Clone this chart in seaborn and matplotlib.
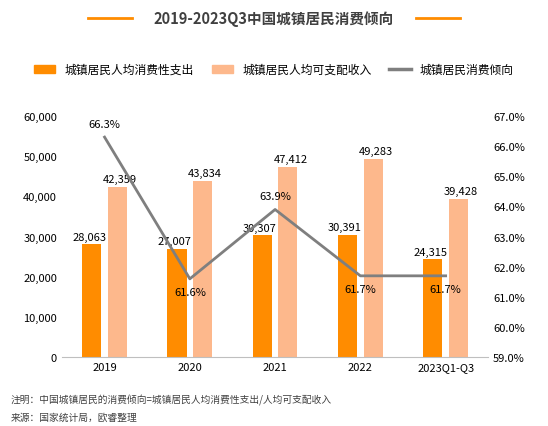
import seaborn as sns
import matplotlib.pyplot as plt
import pandas as pd

years = ["2019", "2020", "2021", "2022", "2023Q1-Q3"]
spend = [28063, 27007, 30307, 30391, 24315]
income = [42359, 43834, 47412, 49283, 39428]
ratio = [66.3, 61.6, 63.9, 61.7, 61.7]

plt.rcParams['font.family'] = ['Noto Sans CJK SC', 'DejaVu Sans']

df = pd.DataFrame({"year": years * 2, "value": spend + income,
                   "series": ["城镇居民人均消费性支出"] * 5 + ["城镇居民人均可支配收入"] * 5})

fig = plt.figure(figsize=(5.48, 4.27), dpi=100)
ax = fig.add_axes([0.113, 0.161, 0.778, 0.565])
c1, c2, cl = "#FF8C00", "#FDB88C", "#7F7F7F"
sns.barplot(data=df, x="year", y="value", hue="series", palette=[c1, c2],
            width=0.6, gap=0.25, saturation=1, ax=ax, legend=False)
ax.set_ylim(0, 60000)
ax.set_yticks(range(0, 60001, 10000))
ax.set_yticklabels([f"{v:,}" for v in range(0, 60001, 10000)])
ax.set_xlabel("")
ax.set_ylabel("")
for s in ["top", "right", "left"]:
    ax.spines[s].set_visible(False)
ax.spines["bottom"].set_color("#BFBFBF")
ax.tick_params(length=0, labelsize=8)
for i, (a, b) in enumerate(zip(spend, income)):
    ax.text(i - 0.18, a + 1200, f"{a:,}", ha="center", fontsize=8)
    ax.text(i + 0.18, b + 1200, f"{b:,}", ha="center", fontsize=8)

ax2 = ax.twinx()
sns.lineplot(x=list(range(5)), y=ratio, color=cl, lw=2, ax=ax2)
ax2.set_ylim(59, 67)
ax2.set_yticks(range(59, 68))
ax2.set_yticklabels([f"{v}.0%" for v in range(59, 68)])
for s in ["top", "right", "left", "bottom"]:
    ax2.spines[s].set_visible(False)
ax2.tick_params(length=0, labelsize=8)
offs = [0.45, -0.45, 0.45, -0.45, -0.45]
for i, r in enumerate(ratio):
    ax2.text(i, r + offs[i], f"{r}%", ha="center", va="center", fontsize=8)
ax.set_xlim(-0.5, 4.5)

fig.text(0.5, 0.955, "2019-2023Q3中国城镇居民消费倾向", ha="center", va="center",
         fontsize=10.5, fontweight="bold", color="#404040")
fig.add_artist(plt.Line2D([0.16, 0.24], [0.955, 0.955], color=c1, lw=2))
fig.add_artist(plt.Line2D([0.76, 0.84], [0.955, 0.955], color=c1, lw=2))

handles = [plt.Rectangle((0, 0), 1, 1, color=c1), plt.Rectangle((0, 0), 1, 1, color=c2),
           plt.Line2D([], [], color=cl, lw=2.5)]
fig.legend(handles, ["城镇居民人均消费性支出", "城镇居民人均可支配收入", "城镇居民消费倾向"],
           loc="center", bbox_to_anchor=(0.5, 0.835), ncol=3, frameon=False,
           fontsize=8.5, handlelength=1.8, columnspacing=1.5)

fig.text(0.02, 0.055, "注明：中国城镇居民的消费倾向=城镇居民人均消费性支出/人均可支配收入", fontsize=7, color="#404040")
fig.text(0.02, 0.015, "来源：国家统计局，欧睿整理", fontsize=7, color="#404040")

fig.savefig("out.png", dpi=100)
